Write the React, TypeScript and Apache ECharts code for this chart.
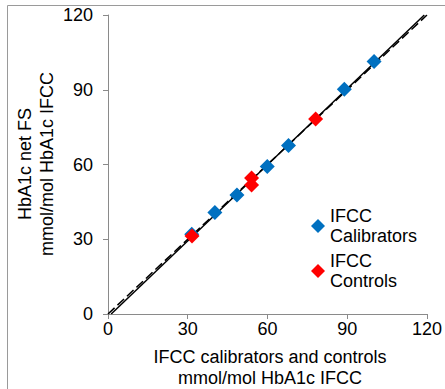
import React, { useEffect, useRef } from "react";
import * as echarts from "echarts";

const calibrators: [number, number][] = [
  [31.5, 32.0],
  [40.2, 40.7],
  [48.5, 47.8],
  [59.9, 59.2],
  [67.9, 67.6],
  [88.9, 90.2],
  [100.1, 101.3],
];
const controls: [number, number][] = [
  [31.6, 31.3],
  [54.0, 54.6],
  [54.0, 51.8],
  [78.1, 78.3],
];
const regressionLine: [number, number][] = [
  [1.2, 0],
  [119.0, 120],
];
const identityLine: [number, number][] = [
  [0, 0],
  [120, 120],
];
const seriesNames = ["IFCC Calibrators", "IFCC Controls"];
const xTitle = "IFCC calibrators and controls\nmmol/mol HbA1c IFCC";
const yTitle = "HbA1c net FS\nmmol/mol HbA1c IFCC";

const FONT = "'Liberation Sans', Arial, sans-serif";
const AXIS_GRAY = "#8a8a8a";

export default function App() {
  const ref = useRef<HTMLDivElement>(null);
  useEffect(() => {
    document.body.style.margin = "0";
    const chart = echarts.init(ref.current!, undefined, { renderer: "svg" });
    const axisCommon = {
      min: 0,
      max: 120,
      interval: 30,
      splitLine: { show: false },
      axisLine: { show: true, lineStyle: { color: AXIS_GRAY, width: 1 } },
      axisTick: { show: true, length: 5, lineStyle: { color: AXIS_GRAY } },
      axisLabel: { color: "#000", fontSize: 18, fontFamily: FONT },
    };
    chart.setOption({
      animation: false,
      backgroundColor: "#fff",
      grid: { left: 108, right: 12, top: 15, bottom: 75, containLabel: false },
      xAxis: {
        type: "value",
        ...axisCommon,
        axisLabel: { ...axisCommon.axisLabel, margin: 6 },
      },
      yAxis: {
        type: "value",
        ...axisCommon,
        axisLabel: { ...axisCommon.axisLabel, margin: 15 },
      },
      legend: {
        data: seriesNames,
        left: 311,
        top: 196,
        padding: 0,
        orient: "vertical",
        itemWidth: 14,
        itemHeight: 14,
        itemGap: -15,
        icon: "diamond",
        itemStyle: { opacity: 1 },
        formatter: (n: string) => n.replace(" ", "\n"),
        textStyle: {
          fontSize: 18,
          fontFamily: FONT,
          color: "#000",
          lineHeight: 20,
          padding: [20, 0, 0, 0],
        },
      },
      graphic: [
        {
          type: "rect",
          shape: { x: 7.5, y: 5.5, width: 600, height: 600 },
          style: { fill: "none", stroke: "#9a9a9a", lineWidth: 1 },
          silent: true,
        },
        {
          type: "text",
          x: 270,
          y: 367,
          style: {
            text: xTitle,
            align: "center",
            verticalAlign: "middle",
            fontSize: 18,
            fontFamily: FONT,
            lineHeight: 21,
            fill: "#000",
          },
        },
        {
          type: "text",
          x: 36,
          y: 164,
          rotation: Math.PI / 2,
          style: {
            text: yTitle,
            align: "center",
            verticalAlign: "middle",
            fontSize: 18,
            fontFamily: FONT,
            lineHeight: 22,
            fill: "#000",
          },
        },
      ],
      series: [
        {
          type: "line",
          data: regressionLine,
          showSymbol: false,
          symbol: "none",
          lineStyle: { color: "#000", width: 1.5, type: "solid" },
          silent: true,
          z: 1,
        },
        {
          type: "line",
          data: identityLine,
          showSymbol: false,
          symbol: "none",
          lineStyle: { color: "#000", width: 1.5, type: [9, 4] },
          silent: true,
          z: 1,
        },
        {
          name: seriesNames[0],
          type: "scatter",
          data: calibrators,
          symbol: "diamond",
          symbolSize: 15,
          itemStyle: { color: "#0070C0", opacity: 1 },
          z: 3,
        },
        {
          name: seriesNames[1],
          type: "scatter",
          data: controls,
          symbol: "diamond",
          symbolSize: 15,
          itemStyle: { color: "#FF0000", opacity: 1 },
          z: 4,
        },
      ],
    });
    return () => chart.dispose();
  }, []);
  return <div ref={ref} style={{ width: 445, height: 389 }} />;
}
